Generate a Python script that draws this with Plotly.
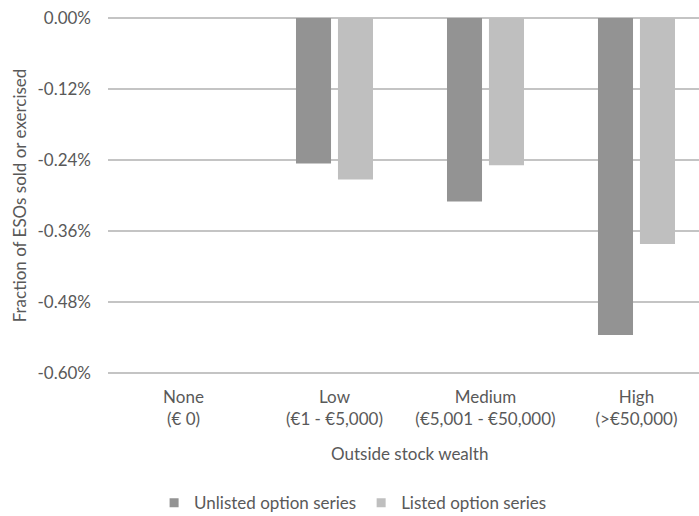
import plotly.graph_objects as go

# Outside stock wealth groups (two-line category labels)
categories = ["None<br>(€ 0)", "Low<br>(€1 - €5,000)", "Medium<br>(€5,001 - €50,000)", "High<br>(>€50,000)"]

# Fraction of ESOs sold or exercised, in percent
unlisted = [0.0, -0.246, -0.310, -0.536]
listed = [0.0, -0.273, -0.249, -0.382]

series_names = ["Unlisted option series", "Listed option series"]
series_colors = ["#939393", "#bfbfbf"]

tick_vals = [0.0, -0.12, -0.24, -0.36, -0.48, -0.60]
tick_text = ["0.00%", "-0.12%", "-0.24%", "-0.36%", "-0.48%", "-0.60%"]

FONT = "Lato"
GREY_TEXT = "#595959"

x_idx = list(range(len(categories)))

fig = go.Figure()
for vals, name, color, off in zip([unlisted, listed], series_names, series_colors, [-0.255, 0.023]):
    fig.add_trace(go.Bar(
        x=x_idx, y=vals, name=name, showlegend=False,
        marker=dict(color=color, line=dict(width=0)),
        width=0.232, offset=off,
    ))

# small square legend keys
for name, color in zip(series_names, series_colors):
    fig.add_trace(go.Scatter(
        x=[None], y=[None], mode="markers", name=name,
        marker=dict(symbol="square", size=9, color=color),
    ))

fig.update_layout(
    width=699, height=516,
    margin=dict(l=108, r=0, t=16, b=141, autoexpand=False),
    paper_bgcolor="white", plot_bgcolor="white",
    font=dict(family=FONT, size=17, color=GREY_TEXT),
    barmode="overlay",
    showlegend=True,
    legend=dict(
        orientation="h", x=0.078, y=-0.357, xanchor="left", yanchor="middle",
        font=dict(family=FONT, size=17, color=GREY_TEXT),
        itemwidth=30, traceorder="normal", borderwidth=0,
    ),
    xaxis=dict(
        range=[-0.5, 3.414], tickmode="array", tickvals=x_idx, ticktext=categories,
        showgrid=False, zeroline=False, showline=False, ticks="",
        tickfont=dict(family=FONT, size=17, color=GREY_TEXT),
        ticklabelstandoff=10, automargin=False,
    ),
    yaxis=dict(
        range=[-0.6034, 0.0034], tickmode="array", tickvals=tick_vals, ticktext=tick_text,
        showgrid=True, gridcolor="#c4c4c4", gridwidth=1.5,
        zeroline=False, showline=False, ticks="",
        tickfont=dict(family=FONT, size=17, color=GREY_TEXT),
        ticklabelstandoff=16, automargin=False,
        title=dict(text="Fraction of ESOs sold or exercised",
                   font=dict(family=FONT, size=17, color=GREY_TEXT), standoff=6),
    ),
    annotations=[dict(
        text="Outside stock wealth", xref="paper", yref="paper",
        x=0.51, y=-0.22, xanchor="center", yanchor="middle", showarrow=False,
        font=dict(family=FONT, size=17, color=GREY_TEXT),
    )],
)

fig.write_html("out.html")
